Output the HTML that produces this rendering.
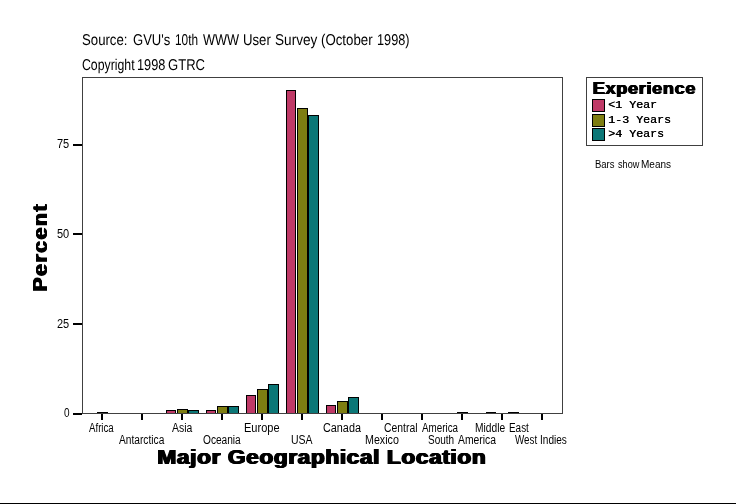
<!DOCTYPE html>
<html><head><meta charset="utf-8"><style>
html,body{margin:0;padding:0;background:#fff;}
body{width:736px;height:504px;position:relative;overflow:hidden;color:#000;}
svg{position:absolute;left:0;top:0;}
</style></head><body>
<svg width="736" height="504" shape-rendering="crispEdges"><rect x="82.5" y="77.5" width="480" height="336" fill="none" stroke="#404040" stroke-width="1"/><rect x="73" y="144" width="9" height="2" fill="#000"/><rect x="73" y="233" width="9" height="2" fill="#000"/><rect x="73" y="323" width="9" height="2" fill="#000"/><rect x="73" y="413" width="9" height="2" fill="#000"/><rect x="101" y="414" width="2" height="6" fill="#000"/><rect x="141" y="414" width="2" height="6" fill="#000"/><rect x="181" y="414" width="2" height="6" fill="#000"/><rect x="221" y="414" width="2" height="6" fill="#000"/><rect x="261" y="414" width="2" height="6" fill="#000"/><rect x="301" y="414" width="2" height="6" fill="#000"/><rect x="341" y="414" width="2" height="6" fill="#000"/><rect x="381" y="414" width="2" height="6" fill="#000"/><rect x="421" y="414" width="2" height="6" fill="#000"/><rect x="461" y="414" width="2" height="6" fill="#000"/><rect x="501" y="414" width="2" height="6" fill="#000"/><rect x="541" y="414" width="2" height="6" fill="#000"/><rect x="97" y="412" width="11" height="2" fill="#000"/><rect x="166" y="410" width="10" height="4" fill="#000"/><rect x="167" y="411" width="8" height="2" fill="#bf3a67"/><rect x="177" y="409" width="11" height="5" fill="#000"/><rect x="178" y="410" width="9" height="3" fill="#7e7e12"/><rect x="188" y="410" width="11" height="4" fill="#000"/><rect x="189" y="411" width="9" height="2" fill="#0b7777"/><rect x="206" y="410" width="10" height="4" fill="#000"/><rect x="207" y="411" width="8" height="2" fill="#bf3a67"/><rect x="217" y="406" width="11" height="8" fill="#000"/><rect x="218" y="407" width="9" height="6" fill="#7e7e12"/><rect x="228" y="406" width="11" height="8" fill="#000"/><rect x="229" y="407" width="9" height="6" fill="#0b7777"/><rect x="246" y="395" width="10" height="19" fill="#000"/><rect x="247" y="396" width="8" height="17" fill="#bf3a67"/><rect x="257" y="389" width="11" height="25" fill="#000"/><rect x="258" y="390" width="9" height="23" fill="#7e7e12"/><rect x="268" y="384" width="11" height="30" fill="#000"/><rect x="269" y="385" width="9" height="28" fill="#0b7777"/><rect x="286" y="90" width="10" height="324" fill="#000"/><rect x="287" y="91" width="8" height="322" fill="#bf3a67"/><rect x="297" y="108" width="11" height="306" fill="#000"/><rect x="298" y="109" width="9" height="304" fill="#7e7e12"/><rect x="308" y="115" width="11" height="299" fill="#000"/><rect x="309" y="116" width="9" height="297" fill="#0b7777"/><rect x="326" y="405" width="10" height="9" fill="#000"/><rect x="327" y="406" width="8" height="7" fill="#bf3a67"/><rect x="337" y="401" width="11" height="13" fill="#000"/><rect x="338" y="402" width="9" height="11" fill="#7e7e12"/><rect x="348" y="397" width="11" height="17" fill="#000"/><rect x="349" y="398" width="9" height="15" fill="#0b7777"/><rect x="457" y="412" width="11" height="2" fill="#000"/><rect x="486" y="412" width="10" height="2" fill="#000"/><rect x="508" y="412" width="11" height="2" fill="#000"/><rect x="82" y="413" width="481" height="1" fill="#404040"/><rect x="586.5" y="77.5" width="116" height="68" fill="none" stroke="#404040" stroke-width="1"/><rect x="592" y="99" width="13" height="13" fill="#000"/><rect x="593" y="100" width="11" height="11" fill="#bf3a67"/><rect x="592" y="114" width="13" height="13" fill="#000"/><rect x="593" y="115" width="11" height="11" fill="#7e7e12"/><rect x="592" y="128" width="13" height="13" fill="#000"/><rect x="593" y="129" width="11" height="11" fill="#0b7777"/><rect x="0" y="503" width="736" height="1" fill="#000"/></svg>
<div style="position:absolute;left:0;top:0;width:736px;height:504px;filter:grayscale(1);"><div style="position:absolute;left:82.15px;top:33.0px;font-family:'Liberation Sans', sans-serif;font-size:15.6px;font-weight:400;line-height:15.6px;white-space:pre;transform:scaleX(0.8462);transform-origin:left top;text-rendering:geometricPrecision;">Source:</div><div style="position:absolute;left:133.16px;top:33.0px;font-family:'Liberation Sans', sans-serif;font-size:15.6px;font-weight:400;line-height:15.6px;white-space:pre;transform:scaleX(0.8372);transform-origin:left top;text-rendering:geometricPrecision;">GVU's</div><div style="position:absolute;left:175.24px;top:33.0px;font-family:'Liberation Sans', sans-serif;font-size:15.6px;font-weight:400;line-height:15.6px;white-space:pre;transform:scaleX(0.7586);transform-origin:left top;text-rendering:geometricPrecision;">10th</div><div style="position:absolute;left:203.0px;top:33.0px;font-family:'Liberation Sans', sans-serif;font-size:15.6px;font-weight:400;line-height:15.6px;white-space:pre;transform:scaleX(0.8182);transform-origin:left top;text-rendering:geometricPrecision;">WWW</div><div style="position:absolute;left:243.16px;top:33.0px;font-family:'Liberation Sans', sans-serif;font-size:15.6px;font-weight:400;line-height:15.6px;white-space:pre;transform:scaleX(0.8438);transform-origin:left top;text-rendering:geometricPrecision;">User</div><div style="position:absolute;left:275.13px;top:33.0px;font-family:'Liberation Sans', sans-serif;font-size:15.6px;font-weight:400;line-height:15.6px;white-space:pre;transform:scaleX(0.8723);transform-origin:left top;text-rendering:geometricPrecision;">Survey</div><div style="position:absolute;left:321.15px;top:33.0px;font-family:'Liberation Sans', sans-serif;font-size:15.6px;font-weight:400;line-height:15.6px;white-space:pre;transform:scaleX(0.85);transform-origin:left top;text-rendering:geometricPrecision;">(October</div><div style="position:absolute;left:377.18px;top:33.0px;font-family:'Liberation Sans', sans-serif;font-size:15.6px;font-weight:400;line-height:15.6px;white-space:pre;transform:scaleX(0.8158);transform-origin:left top;text-rendering:geometricPrecision;">1998)</div><div style="position:absolute;left:82.21px;top:58.0px;font-family:'Liberation Sans', sans-serif;font-size:15.6px;font-weight:400;line-height:15.6px;white-space:pre;transform:scaleX(0.7879);transform-origin:left top;text-rendering:geometricPrecision;">Copyright</div><div style="position:absolute;left:137.18px;top:58.0px;font-family:'Liberation Sans', sans-serif;font-size:15.6px;font-weight:400;line-height:15.6px;white-space:pre;transform:scaleX(0.8182);transform-origin:left top;text-rendering:geometricPrecision;">1998</div><div style="position:absolute;left:168.16px;top:58.0px;font-family:'Liberation Sans', sans-serif;font-size:15.6px;font-weight:400;line-height:15.6px;white-space:pre;transform:scaleX(0.8372);transform-origin:left top;text-rendering:geometricPrecision;">GTRC</div><div style="position:absolute;left:57.08px;top:138px;font-family:'Liberation Sans', sans-serif;font-size:12px;font-weight:400;line-height:12px;white-space:pre;transform:scaleX(0.9167);transform-origin:left top;">75</div><div style="position:absolute;left:57.08px;top:228px;font-family:'Liberation Sans', sans-serif;font-size:12px;font-weight:400;line-height:12px;white-space:pre;transform:scaleX(0.9167);transform-origin:left top;">50</div><div style="position:absolute;left:57.08px;top:318px;font-family:'Liberation Sans', sans-serif;font-size:12px;font-weight:400;line-height:12px;white-space:pre;transform:scaleX(0.9167);transform-origin:left top;">25</div><div style="position:absolute;left:64.0px;top:407px;font-family:'Liberation Sans', sans-serif;font-size:12px;font-weight:400;line-height:12px;white-space:pre;transform:scaleX(0.8333);transform-origin:left top;">0</div><div style="position:absolute;left:89.0px;top:422px;font-family:'Liberation Sans', sans-serif;font-size:12px;font-weight:400;line-height:12px;white-space:pre;transform:scaleX(0.8065);transform-origin:left top;">Africa</div><div style="position:absolute;left:119.0px;top:434px;font-family:'Liberation Sans', sans-serif;font-size:12px;font-weight:400;line-height:12px;white-space:pre;transform:scaleX(0.8491);transform-origin:left top;">Antarctica</div><div style="position:absolute;left:172.0px;top:422px;font-family:'Liberation Sans', sans-serif;font-size:12px;font-weight:400;line-height:12px;white-space:pre;transform:scaleX(0.8696);transform-origin:left top;">Asia</div><div style="position:absolute;left:203.0px;top:434px;font-family:'Liberation Sans', sans-serif;font-size:12px;font-weight:400;line-height:12px;white-space:pre;transform:scaleX(0.8444);transform-origin:left top;">Oceania</div><div style="position:absolute;left:244.08px;top:422px;font-family:'Liberation Sans', sans-serif;font-size:12px;font-weight:400;line-height:12px;white-space:pre;transform:scaleX(0.9189);transform-origin:left top;">Europe</div><div style="position:absolute;left:291.12px;top:434px;font-family:'Liberation Sans', sans-serif;font-size:12px;font-weight:400;line-height:12px;white-space:pre;transform:scaleX(0.875);transform-origin:left top;">USA</div><div style="position:absolute;left:323.1px;top:422px;font-family:'Liberation Sans', sans-serif;font-size:12px;font-weight:400;line-height:12px;white-space:pre;transform:scaleX(0.9024);transform-origin:left top;">Canada</div><div style="position:absolute;left:365.11px;top:434px;font-family:'Liberation Sans', sans-serif;font-size:12px;font-weight:400;line-height:12px;white-space:pre;transform:scaleX(0.8919);transform-origin:left top;">Mexico</div><div style="position:absolute;left:384.14px;top:422px;font-family:'Liberation Sans', sans-serif;font-size:12px;font-weight:400;line-height:12px;white-space:pre;transform:scaleX(0.8649);transform-origin:left top;">Central</div><div style="position:absolute;left:422.0px;top:422px;font-family:'Liberation Sans', sans-serif;font-size:12px;font-weight:400;line-height:12px;white-space:pre;transform:scaleX(0.8182);transform-origin:left top;">America</div><div style="position:absolute;left:428.17px;top:434px;font-family:'Liberation Sans', sans-serif;font-size:12px;font-weight:400;line-height:12px;white-space:pre;transform:scaleX(0.8333);transform-origin:left top;">South</div><div style="position:absolute;left:458.0px;top:434px;font-family:'Liberation Sans', sans-serif;font-size:12px;font-weight:400;line-height:12px;white-space:pre;transform:scaleX(0.8636);transform-origin:left top;">America</div><div style="position:absolute;left:475.15px;top:422px;font-family:'Liberation Sans', sans-serif;font-size:12px;font-weight:400;line-height:12px;white-space:pre;transform:scaleX(0.8529);transform-origin:left top;">Middle</div><div style="position:absolute;left:509.17px;top:422px;font-family:'Liberation Sans', sans-serif;font-size:12px;font-weight:400;line-height:12px;white-space:pre;transform:scaleX(0.8261);transform-origin:left top;">East</div><div style="position:absolute;left:515.0px;top:434px;font-family:'Liberation Sans', sans-serif;font-size:12px;font-weight:400;line-height:12px;white-space:pre;transform:scaleX(0.8148);transform-origin:left top;">West</div><div style="position:absolute;left:540.16px;top:434px;font-family:'Liberation Sans', sans-serif;font-size:12px;font-weight:400;line-height:12px;white-space:pre;transform:scaleX(0.8387);transform-origin:left top;">Indies</div><div style="position:absolute;left:121.0px;width:400px;text-align:center;top:447.5px;font-family:'Liberation Sans', sans-serif;font-size:19.5px;font-weight:700;line-height:19.5px;white-space:pre;transform:scaleX(1.165);transform-origin:center top;text-shadow:0.5px 0 #000, 1px 0 #000, 1.5px 0 #000;letter-spacing:0.5px;">Major Geographical Location</div><div style="position:absolute;left:40.0px;top:248.0px;width:0;height:0;"><div style="position:absolute;left:-100px;top:-10px;width:200px;height:20px;text-align:center;font-family:'Liberation Sans', sans-serif;font-size:19.5px;font-weight:700;line-height:20px;white-space:pre;transform:rotate(-90deg) scaleX(1.08);transform-origin:center center;text-shadow:0.5px 0 #000, 1px 0 #000, 1.5px 0 #000;letter-spacing:1.5px;">Percent</div></div><div style="position:absolute;left:592.0px;top:80.5px;font-family:'Liberation Sans', sans-serif;font-size:15.65px;font-weight:700;line-height:15.65px;white-space:pre;transform:scaleX(1.1687);transform-origin:left top;text-shadow:0.4px 0 #000, 0.8px 0 #000, 1.2px 0 #000;letter-spacing:0.5px;">Experience</div><div style="position:absolute;left:608px;top:100px;font-family:'Liberation Mono', monospace;font-size:11.67px;font-weight:400;line-height:11.67px;white-space:pre;transform:scaleX(1.0);transform-origin:left top;text-shadow:0.4px 0 #000;">&lt;1 Year</div><div style="position:absolute;left:608px;top:115px;font-family:'Liberation Mono', monospace;font-size:11.67px;font-weight:400;line-height:11.67px;white-space:pre;transform:scaleX(1.0);transform-origin:left top;text-shadow:0.4px 0 #000;">1-3 Years</div><div style="position:absolute;left:608px;top:129px;font-family:'Liberation Mono', monospace;font-size:11.67px;font-weight:400;line-height:11.67px;white-space:pre;transform:scaleX(1.0);transform-origin:left top;text-shadow:0.4px 0 #000;">&gt;4 Years</div><div style="position:absolute;left:595.05px;top:160px;font-family:'Liberation Sans', sans-serif;font-size:10px;font-weight:400;line-height:10px;white-space:pre;transform:scaleX(0.9474);transform-origin:left top;">Bars</div><div style="position:absolute;left:618.0px;top:160px;font-family:'Liberation Sans', sans-serif;font-size:10px;font-weight:400;line-height:10px;white-space:pre;transform:scaleX(0.913);transform-origin:left top;">show</div><div style="position:absolute;left:641.0px;top:160px;font-family:'Liberation Sans', sans-serif;font-size:10px;font-weight:400;line-height:10px;white-space:pre;transform:scaleX(1.0);transform-origin:left top;">Means</div></div>
</body></html>
